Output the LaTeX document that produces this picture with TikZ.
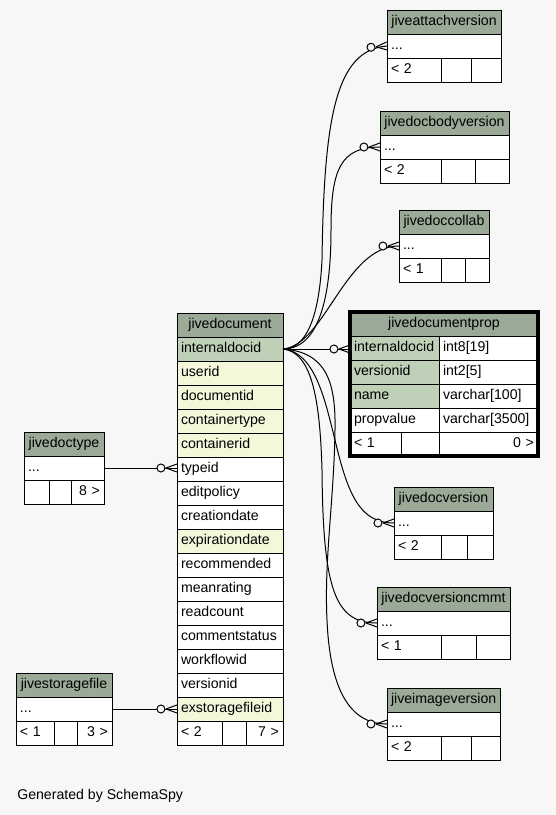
\documentclass[tikz,border=0pt]{standalone}
\usepackage{fontspec}
\setmainfont{Liberation Sans}
\usetikzlibrary{decorations.markings}
\definecolor{bgc}{HTML}{F7F7F7}
\definecolor{hdrc}{HTML}{9BAA96}
\definecolor{pkc}{HTML}{BED1B8}
\definecolor{ixc}{HTML}{F4F7DA}
\hyphenpenalty=10000
\exhyphenpenalty=10000
\newcommand\erfont{\fontsize{10.6pt}{12pt}\selectfont}
\tikzset{
  ercellst/.style={draw=black, line width=0.75pt, inner xsep=3pt, inner ysep=0pt,
    outer sep=0pt, minimum height=18pt, anchor=north west, font=\erfont,
    text height=7.7pt, text depth=2.3pt},
  conn/.style={draw=black, line width=0.75pt},
  manyo/.style={conn, postaction={decorate, decoration={markings,
    mark=at position -0.05pt with {\draw[conn, fill=bgc] (-16,0) circle[radius=4];
      \draw[conn] (-11,0) -- (0,4) (-11,0) -- (0,-4);}}}}
}
% name x1 x2 ytop fill align text
\newcommand\ercell[7]{%
  \pgfmathsetlengthmacro\ercw{(#3-#2)*0.75pt}%
  \pgfmathsetlengthmacro\ertw{(#3-#2-8)*0.75pt}%
  \node[ercellst, fill=#5, minimum width=\ercw, text width=\ertw, align=#6] (#1) at (#2,#4) {#7};}
% id title xl xr yt d1 d2 lfoot rfoot
\newcommand\ertab[9]{%
  \ercell{#1-h}{#3}{#4}{#5}{hdrc}{center}{#2}
  \pgfmathsetmacro\erya{#5+24}%
  \ercell{#1-r}{#3}{#4}{\erya}{white}{left}{...}
  \pgfmathsetmacro\eryb{#5+48}%
  \ercell{#1-f1}{#3}{#6}{\eryb}{white}{left}{#8}
  \ercell{#1-f2}{#6}{#7}{\eryb}{white}{left}{}
  \ercell{#1-f3}{#7}{#4}{\eryb}{white}{right}{#9}}
\begin{document}
\begin{tikzpicture}[x=0.75pt, y=-0.75pt]
\fill[bgc] (0,0) rectangle (556,815);
\useasboundingbox (0,0) rectangle (556,815);

% small tables
\ertab{attach}{jiveattachversion}{387}{501}{10}{441}{471}{< 2}{}
\ertab{body}{jivedocbodyversion}{380}{509}{111}{441}{475}{< 2}{}
\ertab{collab}{jivedoccollab}{399}{489}{210}{441}{465}{< 1}{}
\ertab{docver}{jivedocversion}{394}{493}{487}{441}{467}{< 2}{}
\ertab{cmmt}{jivedocversioncmmt}{377}{510}{587}{441}{476}{< 1}{}
\ertab{image}{jiveimageversion}{387}{500}{688}{441}{471}{< 2}{}
\ertab{doctype}{jivedoctype}{24}{104}{432}{49}{71}{}{8 >}
\ertab{storage}{jivestoragefile}{16}{112}{673}{54}{77}{< 1}{3 >}

% jivedocument
\ercell{doc-h}{177}{283}{313}{hdrc}{center}{jivedocument}
\foreach \i/\n/\t/\f in {0/pk/internaldocid/pkc, 1/userid/userid/ixc,
  2/documentid/documentid/ixc, 3/containertype/containertype/ixc,
  4/containerid/containerid/ixc, 5/typeid/typeid/white,
  6/editpolicy/editpolicy/white, 7/creationdate/creationdate/white,
  8/expirationdate/expirationdate/ixc, 9/recommended/recommended/white,
  10/meanrating/meanrating/white, 11/readcount/readcount/white,
  12/commentstatus/commentstatus/white, 13/workflowid/workflowid/white,
  14/versionid/versionid/white, 15/exstor/exstoragefileid/ixc}{%
  \pgfmathsetmacro\yy{337+24*\i}%
  \ercell{doc-\n}{177}{283}{\yy}{\f}{left}{\t}
}
\ercell{doc-f1}{177}{222}{721}{white}{left}{< 2}
\ercell{doc-f2}{222}{246}{721}{white}{left}{}
\ercell{doc-f3}{246}{283}{721}{white}{right}{7 >}

% jivedocumentprop
\ercell{prop-h}{350}{538}{312}{hdrc}{center}{jivedocumentprop}
\ercell{prop-pk}{350}{439}{336}{pkc}{left}{internaldocid}
\ercell{prop-pkt}{439}{538}{336}{white}{left}{int8[19]}
\ercell{prop-ver}{350}{439}{360}{pkc}{left}{versionid}
\ercell{prop-vert}{439}{538}{360}{white}{left}{int2[5]}
\ercell{prop-name}{350}{439}{384}{pkc}{left}{name}
\ercell{prop-namet}{439}{538}{384}{white}{left}{varchar[100]}
\ercell{prop-val}{350}{439}{408}{white}{left}{propvalue}
\ercell{prop-valt}{439}{538}{408}{white}{left}{varchar[3500]}
\ercell{prop-f1}{350}{401}{432}{white}{left}{< 1}
\ercell{prop-f2}{401}{439}{432}{white}{left}{}
\ercell{prop-f3}{439}{538}{432}{white}{right}{0 >}
\draw[line width=2.4pt] (prop-h.north west) rectangle (prop-f3.south east);

% connectors
\draw[manyo] (doc-pk.east) .. controls (312,349) and (320,300) .. (322,260)
  .. controls (324,120) and (335,50) .. (attach-r.west);
\draw[manyo] (doc-pk.east) .. controls (318,349) and (331,300) .. (331,230)
  .. controls (331,170) and (340,147) .. (body-r.west);
\draw[manyo] (doc-pk.east) .. controls (325,345) and (345,246) .. (collab-r.west);
\draw[manyo] (doc-pk.east) -- (doc-pk.east -| prop-pk.west);
\draw[manyo] (doc-pk.east) .. controls (315,352) and (325,400) .. (335,440)
  .. controls (348,495) and (360,523) .. (docver-r.west);
\draw[manyo] (doc-pk.east) .. controls (312,352) and (320,400) .. (322,470)
  .. controls (323,590) and (335,623) .. (cmmt-r.west);
\draw[manyo] (doc-pk.east) .. controls (325,352) and (336,380) .. (335,430)
  .. controls (334,500) and (324,560) .. (327,620)
  .. controls (330,690) and (350,724) .. (image-r.west);
\draw[manyo] (doctype-r.east) -- (doctype-r.east -| doc-typeid.west);
\draw[manyo] (storage-r.east) -- (storage-r.east -| doc-exstor.west);

\node[anchor=base west, inner sep=0pt, font=\erfont] (gen) at (17,799) {Generated by SchemaSpy};
\end{tikzpicture}
\end{document}
